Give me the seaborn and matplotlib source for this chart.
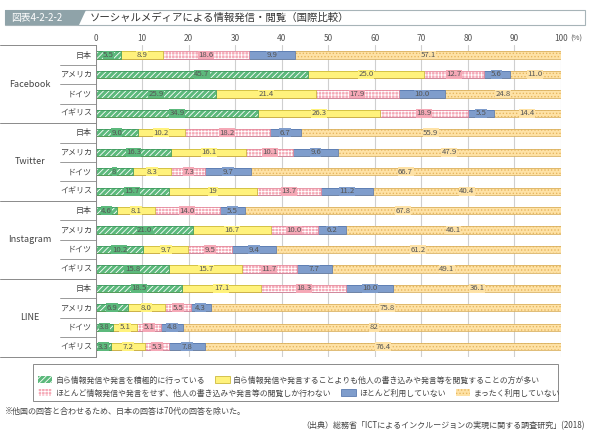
import matplotlib
matplotlib.use("Agg")
import matplotlib.pyplot as plt
import matplotlib.transforms as mtransforms
from matplotlib.patches import Rectangle, Polygon, Patch
import pandas as pd
import seaborn as sns

platforms = ["Facebook", "Twitter", "Instagram", "LINE"]
countries = ["日本", "アメリカ", "ドイツ", "イギリス"]
categories = [
    "自ら情報発信や発言を積極的に行っている",
    "自ら情報発信や発言することよりも他人の書き込みや発言等を閲覧することの方が多い",
    "ほとんど情報発信や発言をせず、他人の書き込みや発言等の閲覧しか行わない",
    "ほとんど利用していない",
    "まったく利用していない",
]

# values as printed on the chart (日本, アメリカ, ドイツ, イギリス)
facebook = [["5.5", "8.9", "18.6", "9.9", "57.1"],
            ["45.7", "25.0", "12.7", "5.6", "11.0"],
            ["25.9", "21.4", "17.9", "10.0", "24.8"],
            ["34.9", "26.3", "18.9", "5.5", "14.4"]]
twitter = [["9.0", "10.2", "18.2", "6.7", "55.9"],
           ["16.3", "16.1", "10.1", "9.6", "47.9"],
           ["8", "8.3", "7.3", "9.7", "66.7"],
           ["15.7", "19", "13.7", "11.2", "40.4"]]
instagram = [["4.6", "8.1", "14.0", "5.5", "67.8"],
             ["21.0", "16.7", "10.0", "6.2", "46.1"],
             ["10.2", "9.7", "9.5", "9.4", "61.2"],
             ["15.8", "15.7", "11.7", "7.7", "49.1"]]
line = [["18.5", "17.1", "18.3", "10.0", "36.1"],
        ["6.9", "8.0", "5.5", "4.3", "75.8"],
        ["3.8", "5.1", "5.1", "4.8", "82"],
        ["3.3", "7.2", "5.3", "7.8", "76.4"]]

# look of the five answer categories
fills = ["#5cb97c", "#fff27c", "#f5a8b6", "#7f9dcc", "#fee2a6"]
hatches = ["//////", None, "+++++", None, "....."]
hatch_cols = ["white", "#fff27c", "white", "#7f9dcc", "#e7b760"]
edges = ["#3f9a5e", "#cdbb3c", "#e58a9c", "#5b7bb0", "#dbb262"]

sns.set_theme(style="white")
plt.rcParams["font.family"] = ["Noto Sans CJK JP", "DejaVu Sans"]
plt.rcParams["hatch.linewidth"] = 0.6

rows = []
for plat, table in zip(platforms, [facebook, twitter, instagram, line]):
    for c, vals in zip(countries, table):
        rows.append([plat, c, f"{plat}|{c}"] + vals)
df = pd.DataFrame(rows, columns=["platform", "country", "row"] + [f"s{k}" for k in range(5)])
vals = df[[f"s{k}" for k in range(5)]].astype(float)
cum = vals.cumsum(axis=1)
for k in range(5):
    df[f"cum{k}"] = cum.iloc[:, k]

fig = plt.figure(figsize=(5.9, 4.37), dpi=100)
W, H = 590, 437
ax = fig.add_axes([95.7 / W, 1 - 356.5 / H, 465 / W, 311.2 / H])

# stacked bars: draw the cumulative totals from the right, each layer covers the next
for k in reversed(range(5)):
    n0 = len(ax.patches)
    sns.barplot(data=df, x=f"cum{k}", y="row", orient="h", color=fills[k],
                saturation=1, width=0.37, errorbar=None, hatch=hatches[k],
                edgecolor=hatch_cols[k], linewidth=0, ax=ax)
    for p in list(ax.patches[n0:]):
        ax.add_patch(Rectangle(p.get_xy(), p.get_width(), p.get_height(),
                               fill=False, ec=edges[k], lw=0.6))

# value labels
for i in range(len(df)):
    left = 0.0
    for k in range(5):
        v = vals.iloc[i, k]
        ax.text(left + v / 2, i, df.loc[i, f"s{k}"], ha="center", va="center",
                fontsize=5.6, color="#555555", zorder=5,
                bbox=dict(boxstyle="square,pad=0.05", fc=fills[k], ec="none"))
        left += v

ax.set_xlim(0, 100)
ax.set_ylim(15.5, -0.5)
ax.set_xlabel("")
ax.set_ylabel("")
ax.set_yticks([])
ax.set_xticks(range(0, 101, 10))
ax.xaxis.tick_top()
ax.tick_params(axis="x", length=0, pad=2, labelsize=6, labelcolor="#555555")
ax.grid(axis="x", color="#cfcfcf", lw=0.8)
ax.set_axisbelow(True)
for s in ["top", "right", "bottom"]:
    ax.spines[s].set_visible(False)
ax.spines["left"].set_color("#8a8a8a")
ax.spines["left"].set_linewidth(0.7)
ax.annotate("(%)", xy=(1.0, 1.0), xycoords="axes fraction", xytext=(7, 2),
            textcoords="offset points", fontsize=5.5, color="#555555",
            ha="left", va="bottom")

# left labels and separators
tr = mtransforms.blended_transform_factory(ax.transAxes, ax.transData)
for g, plat in enumerate(platforms):
    ax.text(-0.142, g * 4 + 1.5, plat, transform=tr, ha="center", va="center",
            fontsize=6.5, color="#444444")
    for j, c in enumerate(countries):
        ax.text(-0.008, g * 4 + j, c, transform=tr, ha="right", va="center",
                fontsize=5.8, color="#444444")
    for j in range(1, 4):
        ax.plot([-0.077, 0], [g * 4 + j - 0.5] * 2, transform=tr, color="#8a8a8a",
                lw=0.6, clip_on=False)
for y in [-0.5, 3.5, 7.5, 11.5, 15.5]:
    ax.plot([-0.206, 0], [y, y], transform=tr, color="#8a8a8a", lw=0.7, clip_on=False)

# title band
def fx(x):
    return x / W


def fy(y):
    return 1 - y / H


fig.patches.append(Rectangle((fx(5), fy(25)), fx(580), 15 / H, transform=fig.transFigure,
                             fc="white", ec="#a7b4b8", lw=0.8))
fig.patches.append(Polygon([(fx(5), fy(10)), (fx(86), fy(10)), (fx(79), fy(25)), (fx(5), fy(25))],
                           closed=True, transform=fig.transFigure, fc="#8fa3a9", ec="none"))
fig.text(fx(11), fy(17.5), "図表4-2-2-2", color="white", fontsize=7, ha="left", va="center")
fig.text(fx(90), fy(17.5), "ソーシャルメディアによる情報発信・閲覧（国際比較）", color="#333333",
         fontsize=7.5, ha="left", va="center")

# legend in two rows inside one frame
handles = [Patch(facecolor=fills[k], edgecolor=hatch_cols[k] if hatches[k] else edges[k],
                 hatch=hatches[k], lw=0 if hatches[k] else 0.6) for k in range(5)]
legend_kw = dict(frameon=False, fontsize=5.7, handlelength=1.8, handleheight=0.9,
                 handletextpad=0.4, columnspacing=1.3, loc="center left", borderaxespad=0,
                 borderpad=0, labelcolor="#444444")
fig.legend(handles[:2], categories[:2], ncol=2, bbox_to_anchor=(fx(38), fy(380)), **legend_kw)
fig.legend(handles[2:], categories[2:], ncol=3, bbox_to_anchor=(fx(38), fy(393)), **legend_kw)
fig.patches.append(Rectangle((fx(33), fy(401)), fx(525), 37 / H, transform=fig.transFigure,
                             fill=False, ec="#8a8a8a", lw=0.7))

fig.text(fx(5), fy(411), "※他国の回答と合わせるため、日本の回答は70代の回答を除いた。", fontsize=5.8,
         color="#444444", ha="left", va="center")
fig.text(fx(585), fy(426), "（出典）総務省「ICTによるインクルージョンの実現に関する調査研究」(2018)",
         fontsize=5.8, color="#444444", ha="right", va="center")

fig.savefig("out.png", dpi=100)
